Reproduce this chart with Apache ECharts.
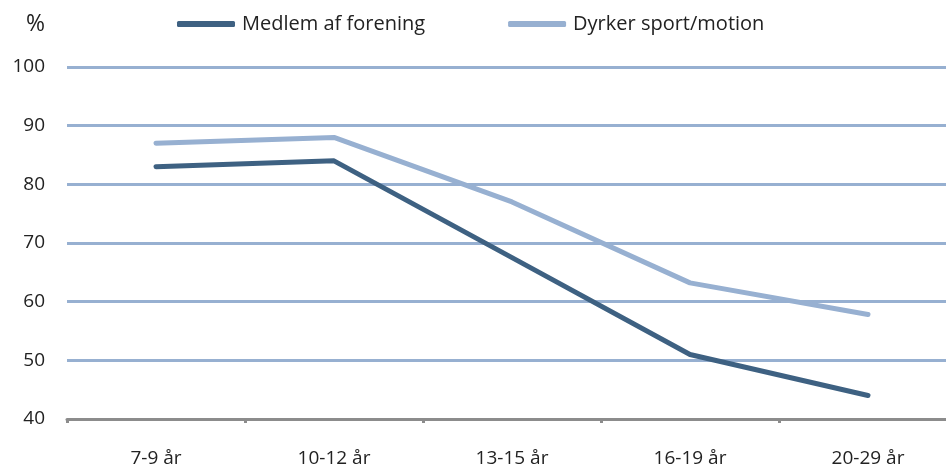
<!DOCTYPE html>
<html><head><meta charset="utf-8">
<script src="https://cdn.jsdelivr.net/npm/echarts@6/dist/echarts.min.js"></script>
<style>html,body{margin:0;padding:0;background:#fff;overflow:hidden}#c{width:960px;height:468px}</style>
</head><body><div id="c"></div>
<script>
const categories = ['7-9 år', '10-12 år', '13-15 år', '16-19 år', '20-29 år'];
const medlem = [83, 84, 67.5, 51, 44];
const dyrker = [87, 88, 77, 63.2, 57.8];
const seriesNames = ['Medlem af forening', 'Dyrker sport/motion'];
const yTicks = { min: 40, max: 100, interval: 10 };

const FONT = 'Open Sans';
const chart = echarts.init(document.getElementById('c'), null, { renderer: 'canvas' });
chart.setOption({
  animation: false,
  backgroundColor: '#fff',
  color: ['#3E6182', '#97B0D1'],
  grid: { left: 67, top: 67, width: 890, height: 353, containLabel: false },
  graphic: [{ type: 'text', left: 26, top: 13, style: { text: '%', font: '23px Open Sans', fill: '#222' } }],
  legend: {
    data: seriesNames,
    top: 9, left: 172,
    icon: 'roundRect', itemWidth: 58, itemHeight: 6, itemGap: 83,
    textStyle: { fontFamily: FONT, fontSize: 20, color: '#222', padding: [0, 0, 0, 2] }
  },
  xAxis: {
    type: 'category', data: categories, boundaryGap: true,
    axisLine: { lineStyle: { color: '#8C8C8C', width: 3 } },
    axisTick: { show: true, length: 4, lineStyle: { color: '#8C8C8C', width: 3 } },
    axisLabel: { fontFamily: FONT, fontSize: 19, color: '#222', margin: 30 },
    splitLine: { show: false }
  },
  yAxis: {
    type: 'value', min: yTicks.min, max: yTicks.max, interval: yTicks.interval,
    axisLine: { show: false }, axisTick: { show: false },
    axisLabel: { fontFamily: FONT, fontSize: 19, color: '#222', margin: 22 },
    splitLine: { lineStyle: { color: '#97B0D1', width: 3 } }
  },
  series: [
    { name: seriesNames[0], type: 'line', data: medlem, showSymbol: false, symbol: 'none',
      lineStyle: { width: 5, cap: 'round', join: 'round' }, z: 3 },
    { name: seriesNames[1], type: 'line', data: dyrker, showSymbol: false, symbol: 'none',
      lineStyle: { width: 5, cap: 'round', join: 'round' }, z: 2 }
  ]
});
</script></body></html>
